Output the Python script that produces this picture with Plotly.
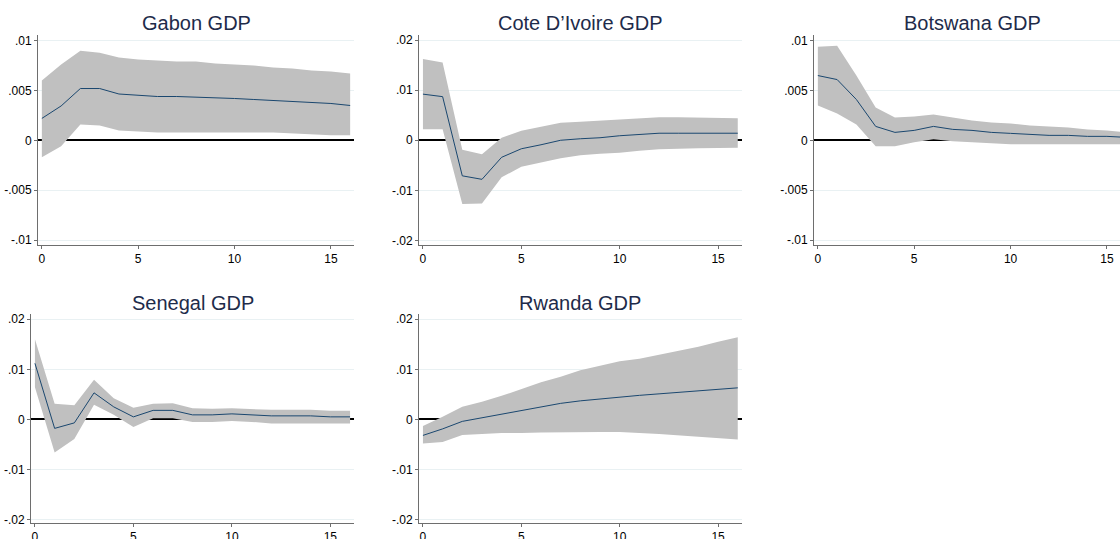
import plotly.graph_objects as go

steps = list(range(17))

titles = ["Gabon GDP", "Cote D\u2019Ivoire GDP", "Botswana GDP", "Senegal GDP", "Rwanda GDP"]

gabon_irf = [0.0022, 0.00345, 0.0052, 0.0052, 0.00465, 0.0045, 0.0044, 0.0044, 0.00435, 0.0043, 0.0042, 0.0041, 0.0040, 0.0039, 0.0038, 0.0037, 0.0035]
gabon_up = [0.0060, 0.0076, 0.0090, 0.0088, 0.0083, 0.0081, 0.0080, 0.0079, 0.0079, 0.0077, 0.0076, 0.0075, 0.0073, 0.0072, 0.0070, 0.0069, 0.0067]
gabon_lo = [-0.0017, -0.0006, 0.0016, 0.0015, 0.0010, 0.0009, 0.0008, 0.0008, 0.0008, 0.0008, 0.0008, 0.0008, 0.0008, 0.0007, 0.0006, 0.0005, 0.0005]

cote_irf = [0.0092, 0.0087, -0.0071, -0.0078, -0.0034, -0.0017, -0.0009, 0.0000, 0.0003, 0.0005, 0.0009, 0.0011, 0.0014, 0.0014, 0.0014, 0.0014, 0.0014]
cote_up = [0.0162, 0.0155, -0.0019, -0.0028, 0.0005, 0.0019, 0.0027, 0.0035, 0.0037, 0.0039, 0.0042, 0.0044, 0.0046, 0.0046, 0.0045, 0.0044, 0.0044]
cote_lo = [0.0022, 0.0022, -0.0127, -0.0126, -0.0074, -0.0053, -0.0044, -0.0036, -0.0030, -0.0027, -0.0025, -0.0021, -0.0018, -0.0017, -0.0016, -0.0015, -0.0015]

bots_irf = [0.0065, 0.0061, 0.0041, 0.0014, 0.0008, 0.0010, 0.0014, 0.0011, 0.0010, 0.0008, 0.0007, 0.0006, 0.0005, 0.0005, 0.0004, 0.0004, 0.0003]
bots_up = [0.0094, 0.0095, 0.0065, 0.0033, 0.0023, 0.0024, 0.0026, 0.0023, 0.0020, 0.0018, 0.0017, 0.0015, 0.0014, 0.0013, 0.0011, 0.0010, 0.0008]
bots_lo = [0.0035, 0.0027, 0.0016, -0.0006, -0.0006, -0.0002, 0.0001, -0.0001, -0.0002, -0.0003, -0.0004, -0.0004, -0.0004, -0.0004, -0.0004, -0.0004, -0.0004]

sen_irf = [0.0112, -0.0018, -0.0007, 0.0053, 0.0025, 0.0005, 0.0018, 0.0018, 0.0009, 0.0009, 0.0011, 0.0009, 0.0007, 0.0007, 0.0007, 0.0005, 0.0005]
sen_up = [0.0160, 0.0031, 0.0028, 0.0079, 0.0042, 0.0023, 0.0031, 0.0032, 0.0022, 0.0021, 0.0022, 0.0020, 0.0019, 0.0019, 0.0019, 0.0017, 0.0017]
sen_lo = [0.0064, -0.0066, -0.0039, 0.0029, 0.0009, -0.0015, 0.0002, 0.0002, -0.0005, -0.0005, -0.0003, -0.0005, -0.0008, -0.0008, -0.0008, -0.0008, -0.0008]

rwa_irf = [-0.0032, -0.0019, -0.0004, 0.0003, 0.0011, 0.0017, 0.0025, 0.0032, 0.0037, 0.0041, 0.0045, 0.0048, 0.0051, 0.0054, 0.0057, 0.0059, 0.0063]
rwa_up = [-0.0013, 0.0005, 0.0025, 0.0035, 0.0047, 0.0061, 0.0074, 0.0085, 0.0098, 0.0107, 0.0116, 0.0121, 0.0129, 0.0136, 0.0145, 0.0155, 0.0164]
rwa_lo = [-0.0048, -0.0045, -0.0031, -0.0029, -0.0027, -0.0027, -0.0026, -0.0025, -0.0025, -0.0025, -0.0025, -0.0027, -0.0029, -0.0031, -0.0034, -0.0037, -0.0040]

x_ticks = [0, 5, 10, 15]
y_ticks_small = [-0.01, -0.005, 0, 0.005, 0.01]
y_labels_small = ["-.01", "-.005", "0", ".005", ".01"]
y_ticks_large = [-0.02, -0.01, 0, 0.01, 0.02]
y_labels_large = ["-.02", "-.01", "0", ".01", ".02"]

series = [
    (gabon_irf, gabon_up, gabon_lo),
    (cote_irf, cote_up, cote_lo),
    (bots_irf, bots_up, bots_lo),
    (sen_irf, sen_up, sen_lo),
    (rwa_irf, rwa_up, rwa_lo),
]

W, H = 1120, 539
# pixel layout in page coordinates: (left, right, top, bottom)
boxes = [
    (38, 354, 35, 245),
    (419, 741.7, 35, 245),
    (814, 1120, 35, 245),
    (31, 354, 314, 523),
    (419, 741.7, 314, 523),
]
xranges = [[-0.2, 16.2], [-0.2, 16.2], [-0.2, (1120 - 814) / 19.27 - 0.2], [-0.2, 16.2], [-0.2, 16.2]]
yranges = [[-0.0105, 0.01057], [-0.0209, 0.0210], [-0.0105, 0.01057], [-0.0207, 0.02105], [-0.0207, 0.02105]]
yt = [(y_ticks_small, y_labels_small), (y_ticks_large, y_labels_large), (y_ticks_small, y_labels_small),
      (y_ticks_large, y_labels_large), (y_ticks_large, y_labels_large)]
title_pos = [(196, 23), (580, 23), (972, 23), (192.5, 302.5), (580.3, 302.5)]

band_color = "#c0c0c0"
line_color = "#1a476f"
axis_color = "#6e6e6e"
grid_color = "#e9f1f3"
font_family = "Liberation Sans, Arial, sans-serif"


def fx(px):
    return px / W


def fy(py):
    return 1 - py / H


fig = go.Figure()
layout = dict(
    width=W, height=H,
    margin=dict(l=0, r=0, t=0, b=0),
    paper_bgcolor="white", plot_bgcolor="white",
    showlegend=False,
    font=dict(family=font_family, size=12, color="#000000"),
    annotations=[],
)

for i, (irf, up, lo) in enumerate(series):
    n = "" if i == 0 else str(i + 1)
    xa, ya = "x" + n, "y" + n
    fig.add_trace(go.Scatter(
        x=steps + steps[::-1], y=up + lo[::-1], fill="toself",
        fillcolor=band_color, line=dict(width=0), mode="lines",
        xaxis=xa, yaxis=ya, hoverinfo="skip"))
    fig.add_trace(go.Scatter(
        x=steps, y=irf, mode="lines", line=dict(color=line_color, width=1),
        xaxis=xa, yaxis=ya))
    l, r, t, b = boxes[i]
    layout["xaxis" + n] = dict(
        domain=[fx(l), min(fx(r), 1.0)], range=xranges[i], anchor=ya,
        tickmode="array", tickvals=x_ticks, ticktext=[str(v) for v in x_ticks],
        showgrid=False, zeroline=False, showline=True, linecolor=axis_color, linewidth=1,
        ticks="outside", ticklen=3, tickcolor=axis_color, automargin=False,
        tickfont=dict(size=12, family=font_family, color="#000000"))
    layout["yaxis" + n] = dict(
        domain=[fy(b), fy(t)], range=yranges[i], anchor=xa,
        tickmode="array", tickvals=yt[i][0], ticktext=yt[i][1],
        showgrid=True, gridcolor=grid_color, gridwidth=1,
        zeroline=True, zerolinecolor="#000000", zerolinewidth=2,
        showline=True, linecolor=axis_color, linewidth=1,
        ticks="outside", ticklen=3, tickcolor=axis_color, automargin=False,
        tickfont=dict(size=12, family=font_family, color="#000000"))
    tx, ty = title_pos[i]
    layout["annotations"].append(dict(
        text=titles[i], x=fx(tx), y=fy(ty), xref="paper", yref="paper",
        xanchor="center", yanchor="middle", showarrow=False,
        font=dict(size=20, family=font_family, color="#1e2b4a")))

fig.update_layout(**layout)
fig.write_html("out.html",
               config={"displayModeBar": False},
               post_script="document.body.style.margin='0';document.body.style.overflow='hidden';")
